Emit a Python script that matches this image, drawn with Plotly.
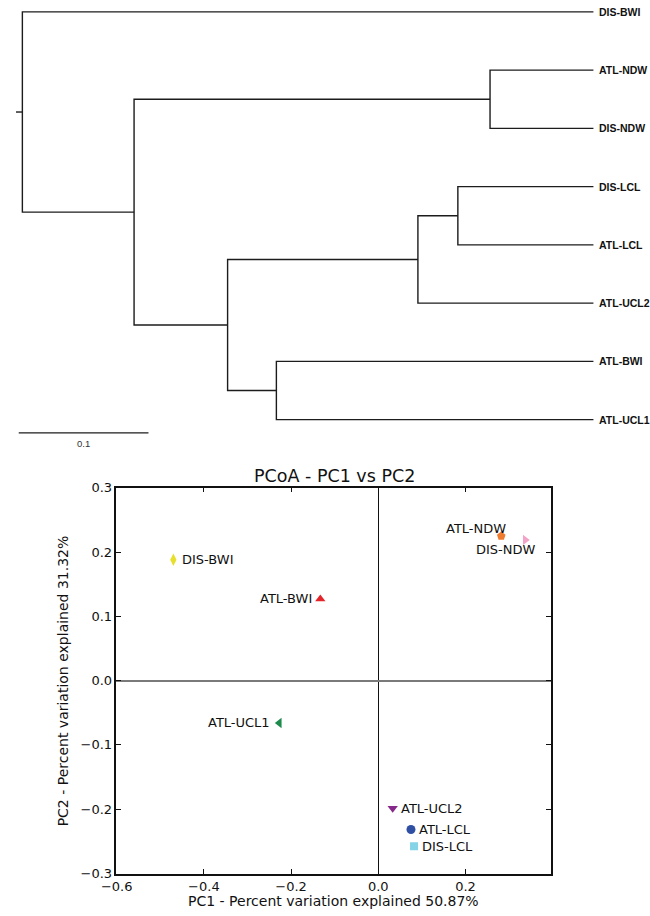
import plotly.graph_objects as go

# ---------------- Dendrogram data ----------------
leaves = ["DIS-BWI", "ATL-NDW", "DIS-NDW", "DIS-LCL", "ATL-LCL", "ATL-UCL2", "ATL-BWI", "ATL-UCL1"]
node_names = ["n_ndw", "n_lcl", "n_lcl_ucl2", "n_bwi_ucl1", "n_b", "n_a", "root"]
node_left = ["ATL-NDW", "DIS-LCL", "n_lcl", "ATL-BWI", "n_lcl_ucl2", "n_ndw", "DIS-BWI"]
node_right = ["DIS-NDW", "ATL-LCL", "ATL-UCL2", "ATL-UCL1", "n_bwi_ucl1", "n_b", "n_a"]
node_height = [0.0797, 0.1045, 0.1353, 0.2444, 0.2820, 0.3541, 0.4402]
scale_length = 0.1
scale_label = "0.1"

# ---------------- PCoA data ----------------
pcoa_labels = ["DIS-BWI", "ATL-BWI", "ATL-NDW", "DIS-NDW", "ATL-UCL1", "ATL-UCL2", "ATL-LCL", "DIS-LCL"]
pc1 = [-0.470, -0.133, 0.282, 0.337, -0.227, 0.033, 0.075, 0.082]
pc2 = [0.188, 0.127, 0.225, 0.219, -0.066, -0.199, -0.232, -0.258]
x_ticks = [-0.6, -0.4, -0.2, 0.0, 0.2]
y_ticks = [-0.3, -0.2, -0.1, 0.0, 0.1, 0.2, 0.3]
title_text = "PCoA - PC1 vs PC2"
x_title = "PC1 - Percent variation explained 50.87%"
y_title = "PC2 - Percent variation explained 31.32%"

# styles
symbols = ["diamond-tall", "triangle-up", "pentagon", "triangle-right",
           "triangle-left", "triangle-down", "circle", "square"]
colors = ["#E6E02C", "#E3242B", "#EE7B2E", "#F2A3C7", "#1E8A4C", "#87298A", "#2F4FA2", "#84D3E6"]
sizes = [9, 9, 9, 9, 9, 9, 9, 8]
label_style = {
    "DIS-BWI": ("left", 7, 0),
    "ATL-BWI": ("right", -6, 0),
    "ATL-NDW": ("right", 7, 8),
    "DIS-NDW": ("right", 13, -10),
    "ATL-UCL1": ("right", -7, 0),
    "ATL-UCL2": ("left", 6, 0),
    "ATL-LCL": ("left", 6, 0),
    "DIS-LCL": ("left", 6, 0),
}

W, H = 650, 916

# ---------------- build dendrogram paths ----------------
pos = {name: (0.0, float(i)) for i, name in enumerate(leaves)}
xs, ys = [], []
for name, l, r, h in zip(node_names, node_left, node_right, node_height):
    xl, yl = pos[l]
    xr, yr = pos[r]
    xs += [xl, h, h, xr, None]
    ys += [yl, yl, yr, yr, None]
    pos[name] = (h, (yl + yr) / 2)
rx, ry = pos["root"]
xs += [rx, rx + 0.005, None]
ys += [ry, ry, None]

fig = go.Figure()
fig.add_trace(go.Scatter(x=xs, y=ys, mode="lines", xaxis="x2", yaxis="y2",
                         line=dict(color="#1c1c1c", width=1.4), hoverinfo="skip",
                         showlegend=False))

# scale bar
scale_start = 0.443
scale_y = 7.229
fig.add_trace(go.Scatter(x=[scale_start, scale_start - scale_length], y=[scale_y, scale_y],
                         mode="lines", xaxis="x2", yaxis="y2",
                         line=dict(color="#1c1c1c", width=1.4), showlegend=False,
                         hoverinfo="skip"))

annotations = []
for i, name in enumerate(leaves):
    annotations.append(dict(x=0.0, y=i, xref="x2", yref="y2", text="<b>" + name + "</b>",
                            showarrow=False, xanchor="left", yanchor="middle", xshift=4,
                            font=dict(family="Liberation Sans, Arial", size=10.5, color="#111")))
annotations.append(dict(x=scale_start - scale_length / 2, y=7.406, xref="x2", yref="y2",
                        text=scale_label, showarrow=False, xanchor="center", yanchor="middle",
                        font=dict(family="Liberation Sans, Arial", size=9.5, color="#333")))

# ---------------- PCoA scatter ----------------
fig.add_trace(go.Scatter(x=pc1, y=pc2, mode="markers", xaxis="x", yaxis="y",
                         marker=dict(symbol=symbols, color=colors, size=sizes,
                                     opacity=1, line=dict(width=0)),
                         showlegend=False, text=pcoa_labels, hoverinfo="text"))

for name, xv, yv in zip(pcoa_labels, pc1, pc2):
    anchor, dx, dy = label_style[name]
    annotations.append(dict(x=xv, y=yv, xref="x", yref="y", text=name, showarrow=False,
                            xanchor=anchor, yanchor="middle", xshift=dx, yshift=dy,
                            font=dict(family="DejaVu Sans", size=13, color="#111")))

# titles
annotations.append(dict(x=327 / W, y=1 - 476 / H, xref="paper", yref="paper", text=title_text,
                        showarrow=False, xanchor="center", yanchor="middle",
                        font=dict(family="DejaVu Sans", size=17.5, color="#111")))
annotations.append(dict(x=326 / W, y=1 - 908 / H, xref="paper", yref="paper", text=x_title,
                        showarrow=False, xanchor="center", yanchor="middle",
                        font=dict(family="DejaVu Sans", size=14, color="#111")))
annotations.append(dict(x=48 / W, y=1 - 684 / H, xref="paper", yref="paper", text=y_title,
                        showarrow=False, xanchor="center", yanchor="middle", textangle=-90,
                        font=dict(family="DejaVu Sans", size=14, color="#111")))

axis_common = dict(showline=True, mirror="ticks", linecolor="#111", linewidth=1.5,
                   ticks="inside", ticklen=5, tickwidth=1.3, tickcolor="#111",
                   showgrid=False, tickformat=".1f",
                   tickfont=dict(family="DejaVu Sans", size=13, color="#111"))

fig.update_layout(
    width=W, height=H,
    margin=dict(l=0, r=0, t=0, b=0),
    paper_bgcolor="white", plot_bgcolor="rgba(0,0,0,0)",
    showlegend=False,
    annotations=annotations,
    xaxis=dict(domain=[103 / W, 548 / W], range=[-0.6005, 0.395], tickvals=x_ticks,
               zeroline=True, zerolinecolor="#111", zerolinewidth=1.2, anchor="y",
               **axis_common),
    yaxis=dict(domain=[1 - 880 / H, 1 - 488 / H], range=[-0.3005, 0.3005], tickvals=y_ticks,
               zeroline=True, zerolinecolor="#7a7a7a", zerolinewidth=1.8, anchor="x",
               **axis_common),
    xaxis2=dict(domain=[0, 1], range=[592 / 1330, -58 / 1330], visible=False, anchor="y2"),
    yaxis2=dict(domain=[1 - 450 / H, 1], range=[(450 - 5) / 59.14, -5 / 59.14],
                visible=False, anchor="x2"),
)

fig.write_html("out.html", config={"displayModeBar": False},
               post_script="document.body.style.margin='0';document.body.style.overflow='hidden';")
